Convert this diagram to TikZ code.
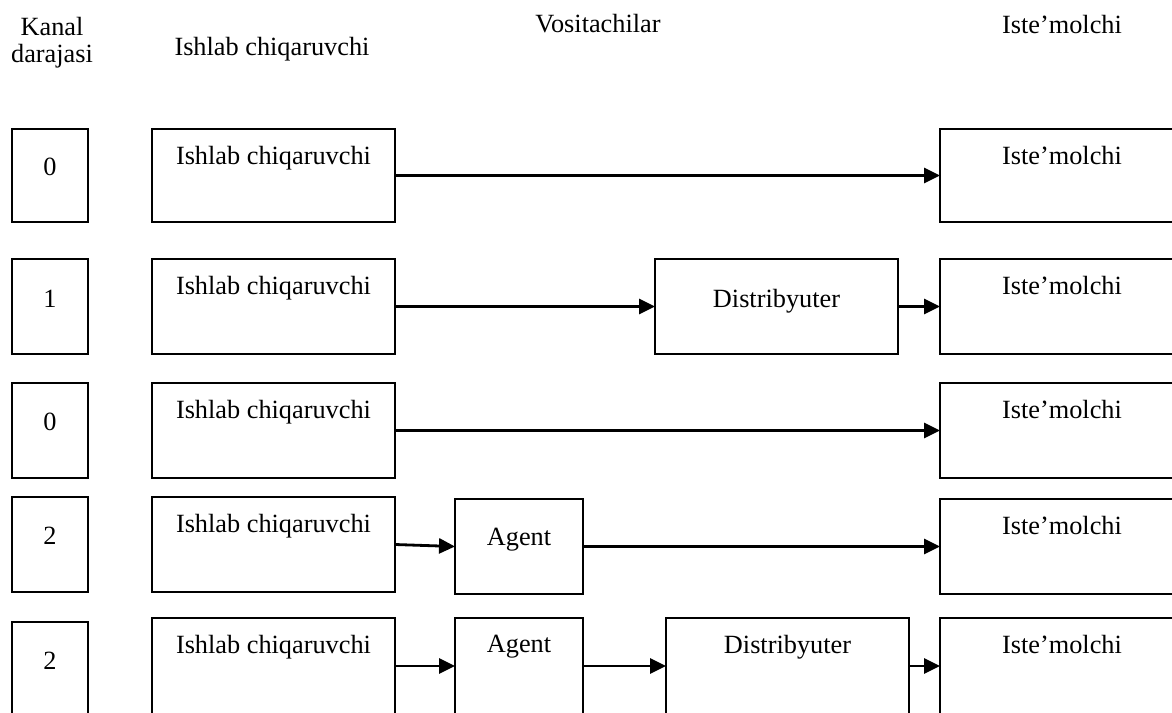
\documentclass[tikz,border=0pt]{standalone}
\usepackage{fontspec}
\setmainfont{Liberation Serif}
\usetikzlibrary{arrows.meta}

% A framed stage: name, left, top, width, height, caption, baseline offset from the top
\newcommand\stagebox[7]{%
  \node[box, minimum width=#4pt, minimum height=#5pt] (#1) at (#2,#3) {};
  \node[lbl] (#1-t) at ([yshift=-#7pt]#1.north) {#6};}

\begin{document}
\begin{tikzpicture}[x=1pt, y=-1pt,
  box/.style={draw, line width=2pt, inner sep=0pt, outer sep=0pt, anchor=north west},
  lbl/.style={anchor=base, inner sep=0pt, font=\fontsize{26.3}{30}\selectfont},
  flow/.style={line width=2.8pt, -{Triangle[length=16pt,width=15pt]}}]
\useasboundingbox (0,0) rectangle (1172,712);
\clip (0,0) rectangle (1172,712);

% column headings
\node[lbl] (hK1) at (52,35) {Kanal};
\node[lbl] (hK2) at (52,62) {darajasi};
\node[lbl] (hP) at (272,55) {Ishlab chiqaruvchi};
\node[lbl] (hV) at (598,32) {Vositachilar};
\node[lbl] (hC) at (1062,33) {Iste’molchi};

% level 0: direct
\stagebox{L1}{12}{129}{76}{93}{0}{46}
\stagebox{P1}{152}{129}{243}{93}{Ishlab chiqaruvchi}{35}
\stagebox{C1}{940}{129}{244}{93}{Iste’molchi}{35}
\draw[flow] (P1.east) -- (C1.west);

% level 1: through a distributor
\stagebox{L2}{12}{259}{76}{95}{1}{48}
\stagebox{P2}{152}{259}{243}{95}{Ishlab chiqaruvchi}{35}
\stagebox{D2}{655}{259}{243}{95}{Distribyuter}{48}
\stagebox{C2}{940}{259}{244}{95}{Iste’molchi}{35}
\draw[flow] (P2.east) -- (D2.west);
\draw[flow] (D2.east) -- (C2.west);

% level 0: direct
\stagebox{L3}{12}{383}{76}{95}{0}{47}
\stagebox{P3}{152}{383}{243}{95}{Ishlab chiqaruvchi}{35}
\stagebox{C3}{940}{383}{244}{95}{Iste’molchi}{35}
\draw[flow] (P3.east) -- (C3.west);

% level 2: agent
\stagebox{L4}{12}{497}{76}{95}{2}{47}
\stagebox{P4}{152}{497}{243}{95}{Ishlab chiqaruvchi}{35}
\stagebox{A4}{455}{499}{128}{95}{Agent}{46}
\stagebox{C4}{940}{499}{244}{95}{Iste’molchi}{35}
\draw[flow] (P4.east) -- (A4.west);
\draw[flow] (A4.east) -- (C4.west);

% level 2: agent and distributor
\stagebox{L5}{12}{622}{76}{96}{2}{47}
\stagebox{P5}{152}{618}{243}{96}{Ishlab chiqaruvchi}{35}
\stagebox{A5}{455}{618}{128}{96}{Agent}{34}
\stagebox{D5}{666}{618}{243}{96}{Distribyuter}{35}
\stagebox{C5}{940}{618}{244}{96}{Iste’molchi}{35}
\draw[flow] (P5.east) -- (A5.west);
\draw[flow] (A5.east) -- (D5.west);
\draw[flow] (D5.east) -- (C5.west);
\end{tikzpicture}
\end{document}
